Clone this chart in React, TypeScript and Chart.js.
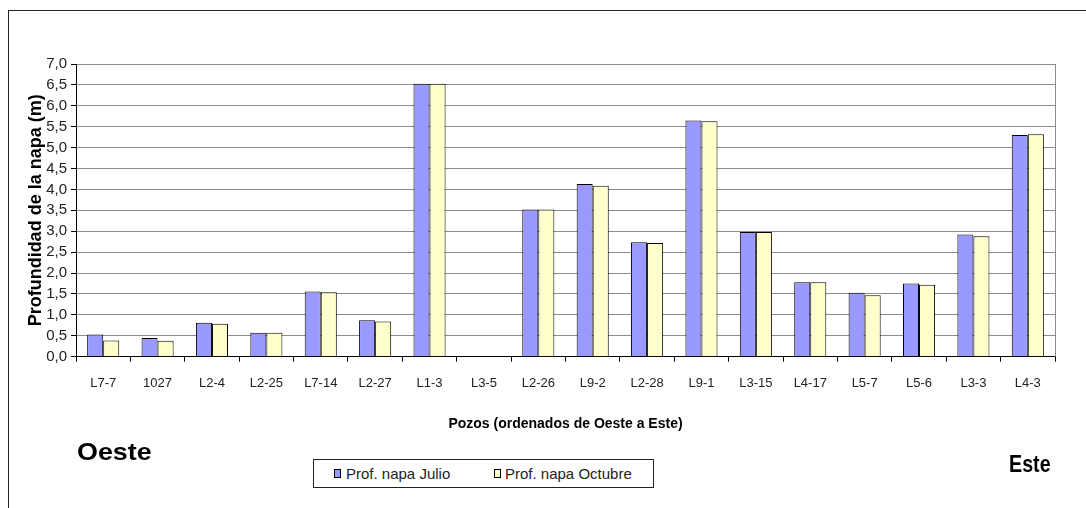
import React, { useEffect, useRef } from "react";
import { Chart, registerables } from "chart.js";

Chart.register(...registerables);

// Wells, ordered from west to east
const wells = [
  "L7-7", "1027", "L2-4", "L2-25", "L7-14", "L2-27", "L1-3", "L3-5", "L2-26",
  "L9-2", "L2-28", "L9-1", "L3-15", "L4-17", "L5-7", "L5-6", "L3-3", "L4-3",
];

// Water-table depth (m)
const julio = [0.53, 0.45, 0.81, 0.57, 1.56, 0.87, 6.53, null, 3.52, 4.13, 2.74, 5.65, 2.98, 1.78, 1.53, 1.75, 2.92, 5.3];
const octubre = [0.39, 0.38, 0.79, 0.57, 1.54, 0.84, 6.53, null, 3.52, 4.09, 2.72, 5.63, 2.98, 1.78, 1.47, 1.72, 2.88, 5.32];

const seriesNames = ["Prof. napa Julio", "Prof. napa Octubre"];
const seriesColors = ["#9999FF", "#FFFFCC"];

const yTitle = "Profundidad de la napa (m)";
const xTitle = "Pozos (ordenados de Oeste a Este)";
const westLabel = "Oeste";
const eastLabel = "Este";

const SANS = "'Liberation Sans', Arial, sans-serif";

// Grey frame line on the right edge of the plot area
const plotFrame = {
  id: "plotFrame",
  afterDraw(chart: any) {
    const { ctx, chartArea } = chart;
    ctx.save();
    ctx.strokeStyle = "#8c8c8c";
    ctx.lineWidth = 1;
    const x = Math.round(chartArea.right) + 0.5;
    ctx.beginPath();
    ctx.moveTo(x, chartArea.top);
    ctx.lineTo(x, chartArea.bottom);
    ctx.stroke();
    ctx.restore();
  },
};

export default function App() {
  const canvasRef = useRef<HTMLCanvasElement | null>(null);

  useEffect(() => {
    if (!canvasRef.current) return;
    const chart = new Chart(canvasRef.current, {
      type: "bar",
      data: {
        labels: wells,
        datasets: [julio, octubre].map((values, i) => ({
          label: seriesNames[i],
          data: values,
          backgroundColor: seriesColors[i],
          borderColor: "#000",
          borderWidth: 1,
          categoryPercentage: 0.59,
          barPercentage: 1,
        })),
      },
      options: {
        responsive: false,
        animation: false,
        layout: { padding: { top: 64, right: 31, bottom: 75, left: 0 } },
        plugins: {
          legend: { display: false },
          tooltip: { enabled: false },
        },
        scales: {
          x: {
            afterFit: (s: any) => {
              s.height = 76.3;
            },
            grid: {
              drawOnChartArea: false,
              drawTicks: true,
              tickLength: 5,
              tickColor: "#000",
              offset: true,
            },
            border: { color: "#000", width: 1 },
            ticks: {
              font: { family: SANS, size: 13 },
              color: "#222",
              padding: 14,
              maxRotation: 0,
              autoSkip: false,
            },
            title: {
              display: true,
              text: xTitle,
              font: { family: SANS, size: 14, weight: "bold" },
              color: "#000",
              padding: 0,
            },
          },
          y: {
            min: 0,
            max: 7,
            afterFit: (s: any) => {
              s.width = 76;
            },
            ticks: {
              stepSize: 0.5,
              autoSkip: false,
              callback: (v: any) => Number(v).toFixed(1).replace(".", ","),
              font: { family: SANS, size: 15 },
              color: "#222",
              padding: 4,
            },
            grid: {
              color: (c: any) => (c.tick && c.tick.value === 0 ? "rgba(0,0,0,0)" : "#8c8c8c"),
              lineWidth: 1,
              tickLength: 5,
              tickColor: "#000",
            },
            border: { color: "#000", width: 1 },
            title: {
              display: true,
              text: yTitle,
              font: { family: SANS, size: 18, weight: "bold" },
              color: "#000",
              padding: { top: 25, bottom: 0 },
            },
          },
        },
      },
      plugins: [plotFrame],
    });
    return () => chart.destroy();
  }, []);

  return (
    <div style={{ position: "absolute", left: 0, top: 0, width: 1086, height: 508, background: "#fff", overflow: "hidden" }}>
      <div
        style={{
          position: "absolute",
          left: 8,
          top: 10,
          width: 1100,
          height: 520,
          borderLeft: "1.5px solid #222",
          borderTop: "1.5px solid #222",
        }}
      />
      <canvas ref={canvasRef} width={1086} height={508} style={{ position: "absolute", left: 0, top: 0 }} />
      <div
        style={{
          position: "absolute",
          left: 77,
          top: 440,
          font: `bold 24px ${SANS}`,
          lineHeight: "24px",
          color: "#000",
          whiteSpace: "nowrap",
          transform: "scaleX(1.12)",
          transformOrigin: "left center",
        }}
      >
        {westLabel}
      </div>
      <div
        style={{
          position: "absolute",
          left: 1009,
          top: 452,
          font: `bold 24px ${SANS}`,
          lineHeight: "24px",
          color: "#000",
          whiteSpace: "nowrap",
          transform: "scaleX(0.82)",
          transformOrigin: "left center",
        }}
      >
        {eastLabel}
      </div>
      <div
        style={{
          position: "absolute",
          left: 313,
          top: 459,
          width: 341,
          height: 29,
          boxSizing: "border-box",
          border: "1px solid #222",
          background: "#fff",
          font: `15px ${SANS}`,
          color: "#222",
        }}
      >
        {seriesNames.map((name, i) => (
          <React.Fragment key={name}>
            <span
              style={{
                position: "absolute",
                left: i === 0 ? 20 : 180,
                top: 9,
                width: 7,
                height: 9,
                boxSizing: "border-box",
                border: "1px solid #000",
                background: seriesColors[i],
              }}
            />
            <span
              style={{
                position: "absolute",
                left: i === 0 ? 32 : 191,
                top: 4,
                lineHeight: "20px",
                whiteSpace: "nowrap",
              }}
            >
              {name}
            </span>
          </React.Fragment>
        ))}
      </div>
    </div>
  );
}
